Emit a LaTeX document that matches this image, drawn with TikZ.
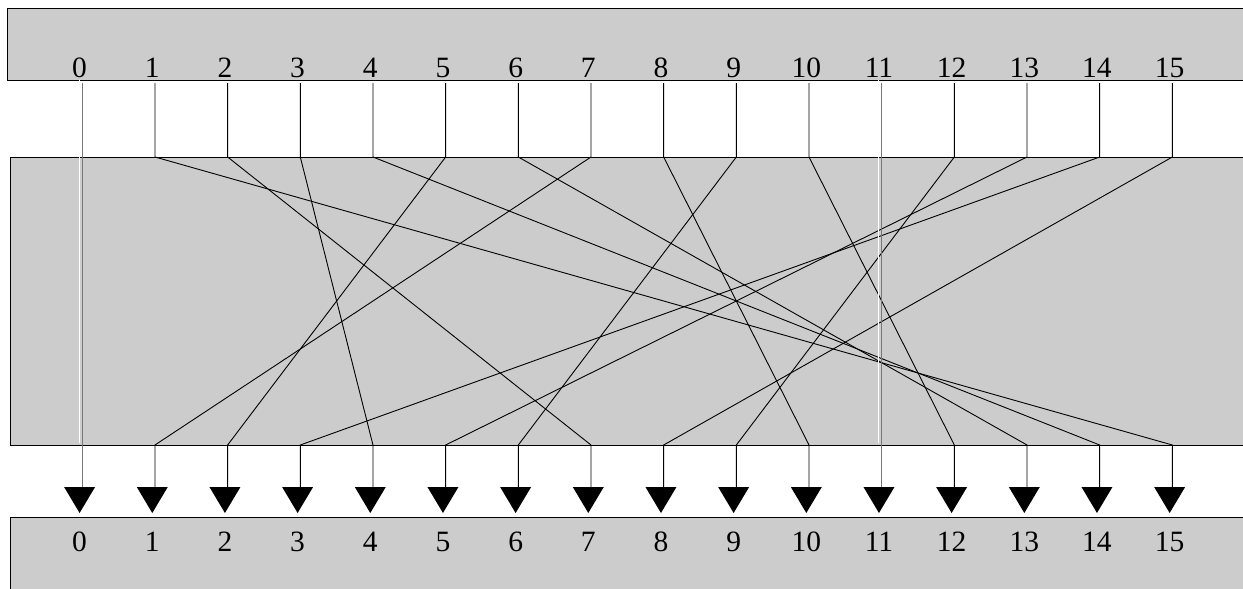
\documentclass[tikz,border=0pt]{standalone}
\usepackage{fontspec}
\setmainfont{Liberation Serif}
\definecolor{boxgray}{RGB}{204,204,204}
\definecolor{midgray}{RGB}{120,120,120}
\begin{document}
\begin{tikzpicture}[x=1pt,y=-1pt,
  band/.style={draw=black,line width=1pt,fill=boxgray},
  wire/.style={draw=black,line width=0.9pt},
  lbl/.style={anchor=base,inner sep=0pt,font=\fontsize{29.5}{30}\selectfont}]
\clip (0,0) rectangle (1243,589);
\useasboundingbox (0,0) rectangle (1243,589);
% bands
\draw[band] (7,8) rectangle (1260,80.5);
\draw[band] (10,157) rectangle (1260,445);
\draw[band] (10,517) rectangle (1260,620);
% coordinates
\foreach \i in {0,...,15}{
  \coordinate (t\i) at ({82.3+72.67*\i},83);
  \coordinate (u\i) at ({82.3+72.67*\i},157);
  \coordinate (d\i) at ({82.3+72.67*\i},445);
  \coordinate (h\i) at ({82.3+72.67*\i},487);
  \coordinate (c\i) at ({79.6+72.67*\i},0);
}
% labels
\foreach \i in {0,...,15}{
  \node[lbl] (top\i) at ({79.6+72.67*\i},77.7) {\i};
  \node[lbl] (bot\i) at ({79.6+72.67*\i},551) {\i};
}
% wires of the permutation
\foreach \i/\p in {1/15,2/7,3/4,4/14,5/2,6/13,7/1,8/10,9/6,10/12,12/9,13/5,14/3,15/8}{
  \draw[wire] (t\i) -- (u\i) -- (d\p) -- (h\p);
}
% straight-through wires 0 and 11
\foreach \i in {0,11}{
  \draw[white,line width=1pt] ({79.6+72.67*\i},79.5) -- ({79.6+72.67*\i},443);
  \draw[midgray,line width=1.3pt] (t\i) -- (h\i);
}
% arrowheads
\foreach \i in {0,...,15}{
  \fill[black] ({79.6+72.67*\i-15.5},487) -- ({79.6+72.67*\i+15.5},487) -- ({79.6+72.67*\i},513) -- cycle;
}
\end{tikzpicture}
\end{document}
